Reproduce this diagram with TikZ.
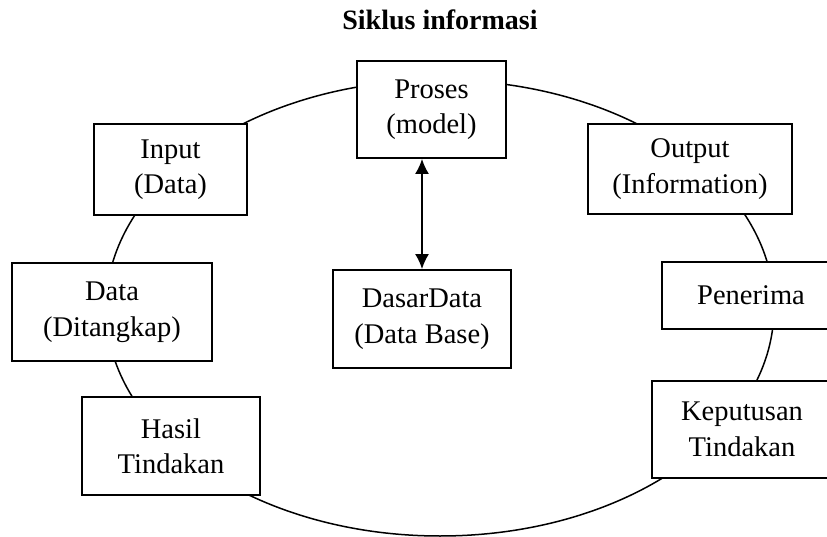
\documentclass[tikz,border=0pt]{standalone}
\usepackage{fontspec}
\setmainfont{Liberation Serif}
\usetikzlibrary{arrows.meta}
\tikzset{
  box/.style={draw, line width=1.8pt, fill=white, align=center, inner sep=0pt,
    font=\fontsize{28.5}{35.5}\selectfont},
  ring/.style={line width=1.5pt},
  link/.style={line width=1.8pt, {Latex[length=15pt,width=14pt]}-{Latex[length=15pt,width=14pt]}}
}
\begin{document}
\begin{tikzpicture}[x=1pt,y=-1pt]
\useasboundingbox (0,0) rectangle (827,537);
\clip (0,0) rectangle (827,537);
\draw[ring] (440,308) ellipse [x radius=334pt, y radius=228pt];
\node[anchor=base, font=\bfseries\fontsize{28}{34}\selectfont] (title) at (440,30) {Siklus informasi};
\node[box, minimum width=149pt, minimum height=97pt] (proses) at (431.5,109.5) {Proses\\(model)};
\node[box, minimum width=153pt, minimum height=91pt] (input) at (170.5,169.5) {Input\\(Data)};
\node[box, minimum width=204pt, minimum height=90pt] (output) at (690,169) {Output\\(Information)};
\node[box, minimum width=200pt, minimum height=98pt] (data) at (112,312) {Data\\(Ditangkap)};
\node[box, minimum width=178pt, minimum height=98pt] (dasar) at (422,319) {DasarData\\(Data Base)};
\node[box, minimum width=178pt, minimum height=67pt] (penerima) at (751,295.5) {Penerima};
\node[box, minimum width=178pt, minimum height=98pt] (hasil) at (171,446) {Hasil\\Tindakan};
\node[box, minimum width=180pt, minimum height=97pt] (keputusan) at (742,429.5) {Keputusan\\Tindakan};
\draw[link] (dasar.north |- proses.south) -- (dasar.north);
\end{tikzpicture}
\end{document}
